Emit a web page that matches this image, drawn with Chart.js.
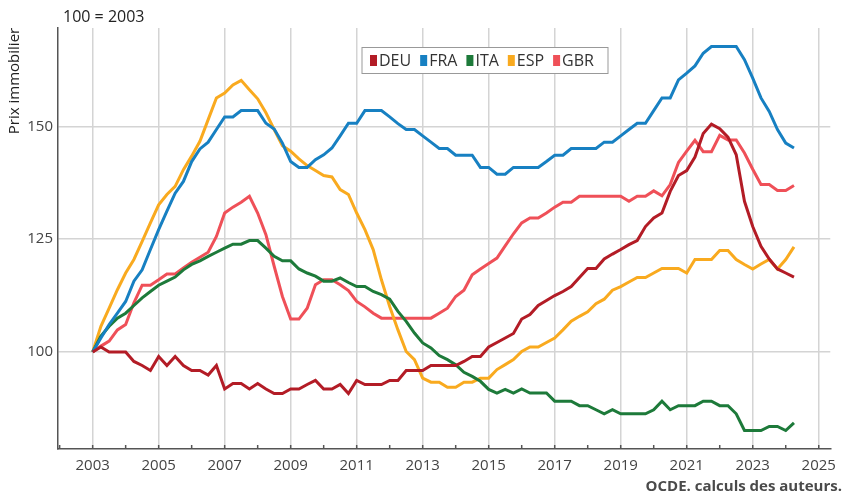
<!DOCTYPE html>
<html lang="fr">
<head>
<meta charset="utf-8">
<title>Prix immobilier</title>
<script src="https://cdn.jsdelivr.net/npm/chart.js@4/dist/chart.umd.min.js"></script>
<style>
  html, body { margin: 0; padding: 0; background: #fff; }
  #wrap { width: 844px; height: 498px; }
</style>
</head>
<body>
<div id="wrap"><canvas id="myChart" width="844" height="498"></canvas></div>
<script>
// trimestres 2003T1 .. 2024T2, indice 100 = 2003
const quarters = [];
for (let i = 0; i < 86; i++) quarters.push(2003 + i / 4);

const yearTicks = [2003, 2005, 2007, 2009, 2011, 2013, 2015, 2017, 2019, 2021, 2023, 2025];
const valueTicks = [100, 125, 150];

const deu = [100, 101.1, 100, 100, 100, 97.9, 97, 95.9, 99, 97, 99, 97, 95.9, 95.9, 94.9, 97,
  91.8, 93, 93, 91.8, 93, 91.8, 90.8, 90.8, 91.8, 91.8, 92.8, 93.7, 91.8, 91.8, 92.8, 90.8,
  93.7, 92.8, 92.8, 92.8, 93.7, 93.7, 95.9, 95.9, 95.9, 97, 97, 97, 97, 97.9, 99, 99,
  101.1, 102.1, 103.1, 104.1, 107.3, 108.3, 110.3, 111.4, 112.5, 113.4, 114.5, 116.5, 118.5, 118.5, 120.6, 121.7,
  122.7, 123.8, 124.7, 127.8, 129.7, 130.8, 135.6, 139.1, 140.2, 143.2, 148.4, 150.5, 149.5, 147.6, 143.7, 133.4,
  127.8, 123.4, 120.6, 118.4, 117.5, 116.6];

const fra = [100, 103.1, 106.1, 108.6, 111.2, 115.7, 118.2, 122.7, 127.1, 131.2, 135.2, 137.8, 142.2, 145, 146.5, 149.3,
  152.1, 152.1, 153.5, 153.5, 153.5, 150.7, 149.4, 146.3, 142.2, 140.9, 140.9, 142.6, 143.7, 145.2, 147.9, 150.7,
  150.7, 153.5, 153.5, 153.5, 152.1, 150.6, 149.3, 149.3, 147.9, 146.5, 145.1, 145.1, 143.6, 143.6, 143.6, 140.9,
  140.9, 139.4, 139.4, 140.9, 140.9, 140.9, 140.9, 142.2, 143.6, 143.6, 145.1, 145.1, 145.1, 145.1, 146.5, 146.5,
  147.9, 149.3, 150.7, 150.7, 153.5, 156.3, 156.3, 160.3, 161.8, 163.4, 166.2, 167.7, 167.7, 167.7, 167.7, 164.8,
  160.7, 156.3, 153.3, 149.3, 146.3, 145.2];

const ita = [100, 103.5, 105.7, 107.5, 108.6, 110.3, 112, 113.4, 114.8, 115.7, 116.6, 118.2, 119.4, 120.2, 121.2, 122.1,
  123, 123.9, 123.9, 124.7, 124.7, 123, 121.2, 120.2, 120.2, 118.4, 117.5, 116.8, 115.7, 115.7, 116.4, 115.4,
  114.5, 114.5, 113.4, 112.7, 111.7, 109, 106.8, 104.2, 102, 100.9, 99.2, 98.3, 97.2, 95.5, 94.6, 93.5,
  91.7, 90.9, 91.7, 90.9, 91.8, 90.9, 90.9, 90.9, 89.1, 89.1, 89.1, 88.1, 88.1, 87.2, 86.3, 87.2,
  86.3, 86.3, 86.3, 86.3, 87.2, 89.1, 87.2, 88.1, 88.1, 88.1, 89.1, 89.1, 88.1, 88.1, 86.3, 82.6,
  82.6, 82.6, 83.5, 83.5, 82.6, 84.3];

const esp = [100, 105.7, 109.7, 113.8, 117.5, 120.5, 124.5, 128.6, 132.6, 134.9, 136.7, 140.4, 143.4, 146.7, 151.5, 156.3,
  157.4, 159.2, 160.2, 158.1, 156.1, 153, 149.3, 145.7, 144.5, 142.8, 141.3, 140.2, 139.1, 138.8, 136, 134.9,
  130.8, 127.1, 122.7, 116, 110.1, 104.9, 100.1, 98.3, 94.2, 93.3, 93.3, 92.2, 92.2, 93.3, 93.3, 94.2,
  94.2, 96.1, 97.2, 98.3, 100.1, 101.1, 101.1, 102.1, 103.1, 104.9, 106.8, 107.9, 108.9, 110.7, 111.7, 113.7,
  114.5, 115.5, 116.5, 116.5, 117.5, 118.5, 118.5, 118.5, 117.5, 120.5, 120.5, 120.5, 122.5, 122.5, 120.5, 119.4,
  118.4, 119.5, 120.5, 118.4, 120.5, 123.3];

const gbr = [100, 101.3, 102.4, 104.9, 106.1, 110.9, 114.8, 114.8, 116, 117.3, 117.3, 118.6, 119.9, 121, 122.1, 125.6,
  130.8, 132.1, 133.2, 134.5, 130.8, 126, 119, 112.3, 107.3, 107.3, 109.7, 114.9, 116, 116, 114.9, 113.6,
  111.2, 110, 108.6, 107.5, 107.5, 107.5, 107.5, 107.5, 107.5, 107.5, 108.6, 109.7, 112.3, 113.7, 117.1, 118.4,
  119.6, 120.8, 123.5, 126.2, 128.6, 129.7, 129.7, 130.8, 132.1, 133.2, 133.2, 134.5, 134.5, 134.5, 134.5, 134.5,
  134.5, 133.4, 134.5, 134.5, 135.7, 134.6, 137.1, 142, 144.5, 146.9, 144.4, 144.4, 148, 147, 147, 144.1,
  140.5, 137.1, 137.1, 135.8, 135.8, 136.9];

const countries = ['DEU', 'FRA', 'ITA', 'ESP', 'GBR'];
const colours = ['#b31c26', '#1780c2', '#1d7a3a', '#f9aa1f', '#ef5058'];
const series = [deu, fra, ita, esp, gbr];

const FONT = '"Open Sans", "Noto Sans", sans-serif';

const toPoints = function (values) {
	return values.map((v, i) => ({ x: quarters[i], y: v }));
};

// textes + legende + petites graduations
const decorPlugin = {
	id: 'decor',
	afterDraw(chart) {
		const ctx = chart.ctx;
		const area = chart.chartArea;
		const xs = chart.scales.x;
		ctx.save();

		// graduations annuelles
		ctx.strokeStyle = '#555';
		ctx.lineWidth = 1.5;
		for (let y = 2002; y <= 2025; y++) {
			const px = xs.getPixelForValue(y);
			ctx.beginPath();
			ctx.moveTo(px, area.bottom);
			ctx.lineTo(px, area.bottom - 4);
			ctx.stroke();
		}

		ctx.fillStyle = '#222';
		ctx.font = '16px ' + FONT;
		ctx.textBaseline = 'middle';
		ctx.textAlign = 'left';
		ctx.fillText('100 = 2003', 63, 17);

		ctx.save();
		ctx.translate(15, 81);
		ctx.rotate(-Math.PI / 2);
		ctx.textAlign = 'center';
		ctx.font = '15px ' + FONT;
		ctx.fillText('Prix immobilier', 0, 0);
		ctx.restore();

		ctx.font = 'bold 15px ' + FONT;
		ctx.fillStyle = '#4a4a4a';
		ctx.textAlign = 'right';
		ctx.textBaseline = 'alphabetic';
		ctx.fillText('OCDE. calculs des auteurs.', 842, 491);

		// legende
		const lx = 362, ly = 47.5, lw = 246, lh = 26;
		ctx.fillStyle = '#fff';
		ctx.fillRect(lx, ly, lw, lh);
		ctx.strokeStyle = '#999';
		ctx.lineWidth = 1;
		ctx.strokeRect(lx, ly, lw, lh);
		ctx.font = '16px ' + FONT;
		ctx.textAlign = 'left';
		ctx.textBaseline = 'middle';
		let cx = lx + 8;
		const cy = ly + lh / 2;
		countries.forEach((name, k) => {
			ctx.fillStyle = colours[k];
			ctx.fillRect(cx, cy - 5.5, 7, 11);
			cx += 9;
			ctx.fillStyle = '#333';
			ctx.fillText(name, cx, cy + 0.5);
			cx += ctx.measureText(name).width + 9;
		});
		ctx.restore();
	},
};

const createChart = function () {
	const config = {
		type: 'line',
		data: {
			datasets: series.map((s, k) => ({
				label: countries[k],
				data: toPoints(s),
				borderColor: colours[k],
				backgroundColor: colours[k],
				borderWidth: 3,
				pointRadius: 0,
				tension: 0,
				fill: false,
			})),
		},
		options: {
			responsive: false,
			animation: false,
			devicePixelRatio: 1,
			layout: { padding: { top: 28, right: 8, left: 0, bottom: 0 } },
			plugins: {
				legend: { display: false },
				tooltip: { enabled: false },
			},
			scales: {
				x: {
					type: 'linear',
					min: 2001.95,
					max: 2025.35,
					afterBuildTicks: (scale) => {
						scale.ticks = yearTicks.map((v) => ({ value: v }));
					},
					afterFit: (scale) => {
						scale.height = 49;
					},
					ticks: {
						autoSkip: false,
						maxRotation: 0,
						padding: 8,
						color: '#444',
						font: { family: FONT, size: 15 },
						callback: (v) => String(v),
					},
					grid: {
						color: '#d4d4d4',
						lineWidth: 1.5,
						drawTicks: false,
					},
					border: { color: '#555', width: 1.5 },
				},
				y: {
					min: 78.5,
					max: 171.8,
					afterBuildTicks: (scale) => {
						scale.ticks = valueTicks.map((v) => ({ value: v }));
					},
					afterFit: (scale) => {
						scale.width = 58;
					},
					ticks: {
						padding: 5,
						color: '#444',
						font: { family: FONT, size: 15 },
					},
					grid: {
						color: '#d4d4d4',
						lineWidth: 1.5,
						drawTicks: false,
					},
					border: { color: '#555', width: 1.5 },
				},
			},
		},
		plugins: [decorPlugin],
	};

	const ctx = document.getElementById('myChart');
	const myChart = new Chart(ctx, config);
};

//#region ***  Init / DOMContentLoaded  ***
const init = function () {
	createChart();
};
document.addEventListener('DOMContentLoaded', init);
//#endregion
</script>
</body>
</html>
